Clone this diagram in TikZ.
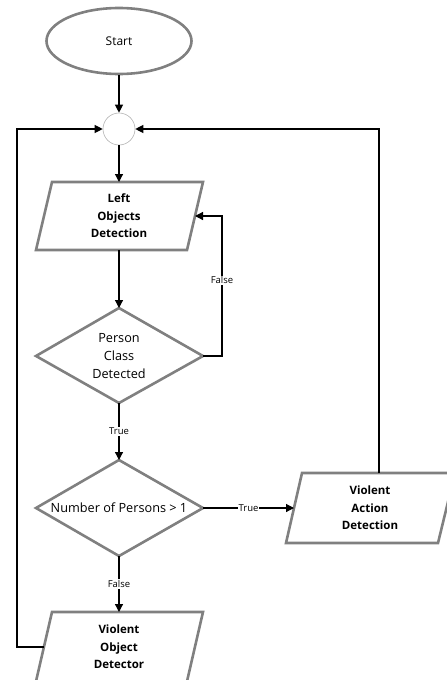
\documentclass[tikz,border=0pt]{standalone}
\usepackage{fontspec}
\setmainfont{Open Sans}
\usetikzlibrary{arrows.meta,shapes.geometric}
\definecolor{bord}{RGB}{128,128,128}
\begin{document}
\begin{tikzpicture}[x=1pt,y=-1pt,
  pshape/.style={draw=bord,line width=2.6pt,line join=miter},
  conn/.style={line width=1.2pt,-{Triangle[length=8pt,width=8pt]}},
  plain/.style={line width=1.2pt},
  txt/.style={font=\fontsize{12.7}{17.8}\selectfont,align=center,inner sep=0pt},
  btxt/.style={font=\fontsize{11.5}{17.5}\selectfont\bfseries,align=center,inner sep=0pt},
  lbl/.style={font=\fontsize{9.5}{11}\selectfont,fill=white,inner sep=1pt}]
\useasboundingbox (0,0) rectangle (447,680);
\clip (0,0) rectangle (447,680);
% Start
\node[ellipse,draw=bord,line width=2.6pt,minimum width=145pt,minimum height=66pt,font=\fontsize{12}{14}\selectfont] (start) at (119,41) {Start};
% junction
\node[circle,draw=bord!60,line width=0.6pt,minimum size=32pt,inner sep=0pt] (join) at (119,129) {};
% Left Objects Detection
\draw[pshape] (52,182) -- (203,182) -- (187,250) -- (36,250) -- cycle;
\node[btxt] (lod) at (119,216) {Left\\Objects\\Detection};
\coordinate (lodtop) at (119,182);
\coordinate (lodbot) at (119,250);
\coordinate (lodright) at (195,216);
% Diamond 1
\coordinate (d1top) at (119,308);
\coordinate (d1right) at (203,356);
\coordinate (d1bot) at (119,403);
\coordinate (d1left) at (36,356);
\draw[pshape] (d1top) -- (d1right) -- (d1bot) -- (d1left) -- cycle;
\node[txt] (d1) at (119,356) {Person\\Class\\Detected};
% Diamond 2
\coordinate (d2top) at (119,460);
\coordinate (d2right) at (203,508);
\coordinate (d2bot) at (119,556);
\coordinate (d2left) at (36,508);
\draw[pshape] (d2top) -- (d2right) -- (d2bot) -- (d2left) -- cycle;
\node[txt] (d2) at (119,508) {Number of Persons > 1};
% Violent Action Detection
\draw[pshape] (302,473) -- (455,473) -- (438,543) -- (286,543) -- cycle;
\node[btxt] (vad) at (370,508) {Violent\\Action\\Detection};
\coordinate (vadtop) at (379,473);
\coordinate (vadleft) at (294,508);
% Violent Object Detector
\draw[pshape] (52,612) -- (203,612) -- (185,690) -- (34,690) -- cycle;
\node[btxt] (vod) at (119,647) {Violent\\Object\\Detector};
\coordinate (vodtop) at (119,612);
\coordinate (vodleft) at (44,647);
% connectors
\draw[conn] (start.south) -- (join.north);
\draw[conn] (join.south) -- (lodtop);
\draw[conn] (lodbot) -- (d1top);
\draw[conn] (d1right) -- ++(19,0) |- node[lbl,pos=0.27]{False} (lodright);
\draw[conn] (d1bot) -- node[lbl]{True} (d2top);
\draw[conn] (d2right) -- node[lbl]{True} (vadleft);
\draw[conn] (d2bot) -- node[lbl]{False} (vodtop);
\draw[conn] (vodleft) -- ++(-27,0) |- (join.west);
\draw[conn] (vadtop) |- (join.east);
\end{tikzpicture}
\end{document}
